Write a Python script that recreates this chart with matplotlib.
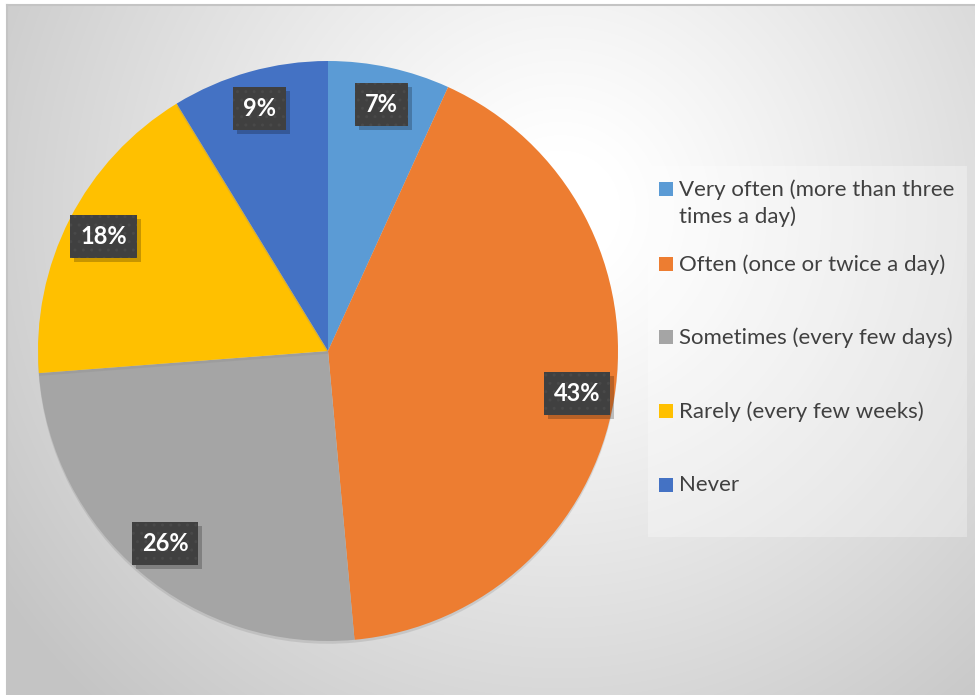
import numpy as np
import matplotlib.pyplot as plt
from matplotlib.patches import Rectangle
import matplotlib.transforms as mtransforms
import matplotlib.patheffects as pe

plt.rcParams['font.family'] = ['Lato', 'DejaVu Sans']

# survey answers, shares in percent
categories = ['Very often (more than three\ntimes a day)',
              'Often (once or twice a day)',
              'Sometimes (every few days)',
              'Rarely (every few weeks)',
              'Never']
shares = [7, 43, 26, 18, 9]
colors = ['#5B9BD5', '#ED7D31', '#A5A5A5', '#FFC000', '#4472C4']

W, H = 975, 695
fig = plt.figure(figsize=(W / 100, H / 100), dpi=100)

### BACKGROUND: radial grey gradient inside a thin frame
bg = fig.add_axes([0, 0, 1, 1], zorder=0)
yy, xx = np.mgrid[0:H, 0:W]
d = np.hypot(xx - 560, yy - 210)
t = np.clip((d - 60) / 620, 0, 1)
shade = 1.0 - 0.23 * t ** 1.1
img = np.dstack([shade, shade, shade])
img[:5, :, :] = 1.0
img[:, :7, :] = 1.0
bg.imshow(img, extent=(0, W, H, 0), interpolation='bilinear')
bg.plot([7, W], [5, 5], color='#c4c4c4', lw=1.5)
bg.plot([7, 7], [5, H], color='#c4c4c4', lw=1.5)
bg.set_xlim(0, W)
bg.set_ylim(H, 0)
bg.axis('off')

# legend panel
bg.add_patch(Rectangle((648, 166), 319, 371, facecolor='white', alpha=0.3, lw=0))

### PIE
cx, cy, r = 328, 351, 290
ax = fig.add_axes([(cx - r) / W, (H - cy - r) / H, 2 * r / W, 2 * r / H], zorder=1)
wedges, _ = ax.pie(shares, colors=colors, startangle=90, counterclock=False,
                   radius=1, wedgeprops=dict(linewidth=0))
for w in wedges:
    w.set_path_effects([pe.SimplePatchShadow(offset=(0, -2), shadow_rgbFace='#888888', alpha=0.25),
                        pe.Normal()])

# value labels on dark dotted boxes
labels = []
for w, s in zip(wedges, shares):
    mid = np.deg2rad((w.theta1 + w.theta2) / 2)
    x, y = 0.87 * np.cos(mid), 0.87 * np.sin(mid)
    txt = ax.text(x, y, '%d%%' % s, ha='center', va='center', color='white',
                  fontsize=17, fontweight='bold', zorder=3,
                  bbox=dict(boxstyle='square,pad=0.42', facecolor='#404040',
                            edgecolor='#494949', linewidth=0, hatch='..'))
    labels.append(txt)
ax.set_xlim(-1, 1)
ax.set_ylim(-1, 1)
ax.axis('off')

# drop shadows under the label boxes (need the box sizes, so draw first)
fig.canvas.draw()
for txt in labels:
    bb = txt.get_bbox_patch().get_window_extent()
    ax.add_patch(Rectangle((bb.x0 + 4, bb.y0 - 4), bb.width, bb.height,
                           transform=mtransforms.IdentityTransform(),
                           facecolor='black', alpha=0.22, lw=0, zorder=2.5))
ax.set_xlim(-1, 1)
ax.set_ylim(-1, 1)

### LEGEND
legend_y = [189, 264, 337, 411, 485]
for lab, c, ly in zip(categories, colors, legend_y):
    bg.add_patch(Rectangle((659, ly - 7), 14, 14, facecolor=c, lw=0))
    bg.text(679, ly - 10, lab, ha='left', va='top', fontsize=16,
            color='#404040', linespacing=1.4)

fig.savefig('out.png', dpi=100)
